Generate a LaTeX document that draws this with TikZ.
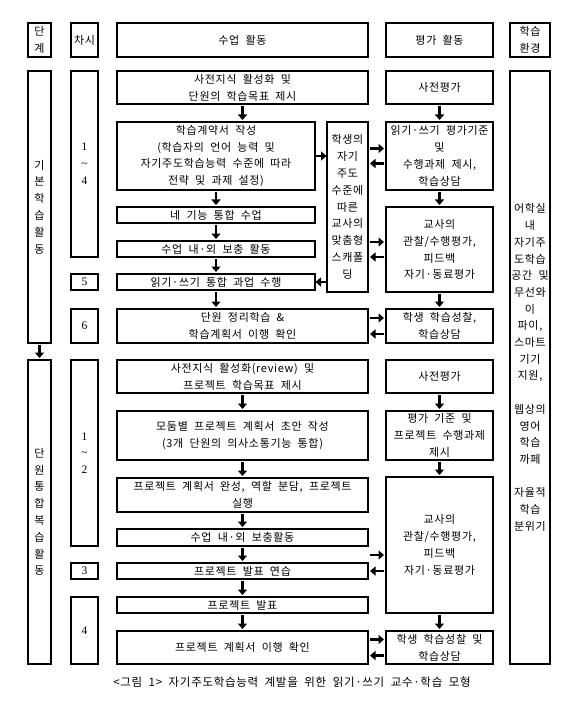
\documentclass[tikz,border=0pt]{standalone}
\usepackage{fontspec}
\newfontfamily\kr[LetterSpace=6,WordSpace=2]{Noto Sans CJK KR}
\newfontfamily\numf{Liberation Serif}
\usetikzlibrary{arrows.meta,calc}
\tikzset{
 bx/.style={draw, line width=1.7pt, inner sep=0pt, outer sep=0pt, anchor=north west},
 txt/.style={inner sep=0pt, align=center, font=\kr\fontsize{11}{16.8}\selectfont},
 envtxt/.style={inner sep=0pt, align=center, font=\kr\fontsize{11}{16.7}\selectfont},
 num/.style={inner sep=0pt, align=center, font=\numf\fontsize{11.5}{16.8}\selectfont},
 arr/.style={line width=2.8pt, -{Triangle[length=5.5pt,width=9pt]}, shorten <=2pt, shorten >=2pt},
 sarr/.style={arr, shorten <=1pt, shorten >=0.5pt},
}
\newcommand\mybox[7][txt]{%
 \node[bx, minimum width=#5pt-#3pt, minimum height=#6pt-#4pt] (#2) at (#3,#4) {};
 \node[#1] (#2t) at (#2.center) {#7};}
\begin{document}
\begin{tikzpicture}[x=1pt,y=-1pt]
\useasboundingbox (0,0) rectangle (585,711);
% header
\mybox{h1}{28}{23}{51}{57}{단\\계}
\mybox{h2}{71}{23}{98}{57}{차시}
\mybox{h3}{117}{23}{368}{57}{수업 활동}
\mybox{h4}{386}{23}{493}{57}{평가 활동}
\mybox{h5}{510}{23}{550}{57}{학습\\환경}
% stage column
\mybox{s1}{28}{71}{51}{343}{기\\본\\학\\습\\활\\동}
\mybox{s2}{28}{360}{51}{664}{단\\원\\통\\합\\복\\습\\활\\동}
% session column
\mybox[num]{c1}{71}{71}{98}{257}{1\\\textasciitilde\\4}
\mybox[num]{c2}{71}{274}{98}{290}{5}
\mybox[num]{c3}{71}{309}{98}{343}{6}
\mybox[num]{c4}{71}{360}{98}{546}{1\\\textasciitilde\\2}
\mybox[num]{c5}{71}{563}{98}{579}{3}
\mybox[num]{c6}{71}{597}{98}{664}{4}
% class activities (part 1)
\mybox{a1}{117}{71}{368}{104}{사전지식 활성화 및\\단원의 학습목표 제시}
\mybox{a2}{117}{122}{315}{190}{학습계약서 작성\\(학습자의 언어 능력 및\\자기주도학습능력 수준에 따라\\전략 및 과제 설정)}
\mybox{a3}{117}{207}{315}{223}{네 기능 통합 수업}
\mybox{a4}{117}{241}{315}{257}{수업 내·외 보충 활동}
\mybox{a5}{117}{274}{315}{290}{읽기·쓰기 통합 과업 수행}
\mybox{a6}{117}{309}{368}{343}{단원 정리학습 \&\\학습계획서 이행 확인}
\mybox{sc}{327}{122}{368}{292}{학생의\\자기\\주도\\수준에\\따른\\교사의\\맞춤형\\스캐폴\\딩}
% class activities (part 2)
\mybox{b1}{117}{360}{368}{393}{사전지식 활성화(review) 및\\프로젝트 학습목표 제시}
\mybox{b2}{117}{411}{368}{460}{모둠별 프로젝트 계획서 초안 작성\\(3개 단원의 의사소통기능 통합)}
\mybox{b3}{117}{478}{368}{512}{프로젝트 계획서 완성, 역할 분담, 프로젝트\\실행}
\mybox{b4}{117}{529}{368}{546}{수업 내·외 보충활동}
\mybox{b5}{117}{563}{368}{579}{프로젝트 발표 연습}
\mybox{b6}{117}{597}{368}{613}{프로젝트 발표}
\mybox{b7}{117}{631}{368}{664}{프로젝트 계획서 이행 확인}
% evaluation activities
\mybox{e1}{386}{71}{493}{104}{사전평가}
\mybox{e2}{386}{122}{493}{190}{읽기·쓰기 평가기준\\및\\수행과제 제시,\\학습상담}
\mybox{e3}{386}{207}{493}{292}{교사의\\관찰/수행평가,\\피드백\\자기·동료평가}
\mybox{e4}{386}{309}{493}{343}{학생 학습성찰,\\학습상담}
\mybox{e5}{386}{360}{493}{393}{사전평가}
\mybox{e6}{386}{411}{493}{460}{평가 기준 및\\프로젝트 수행과제\\제시}
\mybox{e7}{386}{477}{493}{613}{교사의\\관찰/수행평가,\\피드백\\자기·동료평가}
\mybox{e8}{386}{631}{493}{664}{학생 학습성찰 및\\학습상담}
% environment
\mybox[envtxt]{env}{510}{71}{550}{664}{어학실\\내\\자기주\\도학습\\공간 및\\무선와\\이\\파이,\\스마트\\기기\\지원,\\\mbox{}\\웹상의\\영어\\학습\\까페\\\mbox{}\\자율적\\학습\\분위기}
% vertical arrows
\draw[arr] (s1.south) -- (s1.south|-s2.north);
\draw[arr] (a1.south) -- (a1.south|-a2.north);
\draw[arr] (a2.south) -- (a2.south|-a3.north);
\draw[arr] (a3.south) -- (a3.south|-a4.north);
\draw[arr] (a4.south) -- (a4.south|-a5.north);
\draw[arr] (a5.south) -- (a5.south|-a6.north);
\draw[arr] (b1.south) -- (b1.south|-b2.north);
\draw[arr] (b2.south) -- (b2.south|-b3.north);
\draw[arr] (b3.south) -- (b3.south|-b4.north);
\draw[arr] (b4.south) -- (b4.south|-b5.north);
\draw[arr] (b5.south) -- (b5.south|-b6.north);
\draw[arr] (b6.south) -- (b6.south|-b7.north);
\draw[arr] (e1.south) -- (e1.south|-e2.north);
\draw[arr] (e2.south) -- (e2.south|-e3.north);
\draw[arr] (e3.south) -- (e3.south|-e4.north);
\draw[arr] (e5.south) -- (e5.south|-e6.north);
\draw[arr] (e6.south) -- (e6.south|-e7.north);
\draw[arr] (e7.south) -- (e7.south|-e8.north);
% horizontal arrows
\draw[sarr] (a2.east) -- (a2.east-|sc.west);
\draw[arr] ($(sc.east|-e2.west)+(0,-7.5)$) -- ($(e2.west)+(0,-7.5)$);
\draw[arr] ($(e2.west)+(0,7.5)$) -- ($(sc.east|-e2.west)+(0,7.5)$);
\draw[arr] ($(sc.east|-e3.west)+(0,-7.5)$) -- ($(e3.west)+(0,-7.5)$);
\draw[arr] ($(e3.west)+(0,7.5)$) -- ($(sc.east|-e3.west)+(0,7.5)$);
\draw[sarr] (sc.west|-a5.east) -- (a5.east);
\draw[arr] ($(a6.east)+(0,-8)$) -- ($(e4.west)+(0,-8)$);
\draw[arr] ($(e4.west)+(0,8)$) -- ($(a6.east)+(0,8)$);
\draw[arr] ($(b5.east|-e7.west)+(0,10)$) -- ($(e7.west)+(0,10)$);
\draw[arr] (e7.west|-b5.east) -- (b5.east);
\draw[arr] ($(b7.east)+(0,-8)$) -- ($(e8.west)+(0,-8)$);
\draw[arr] ($(e8.west)+(0,8)$) -- ($(b7.east)+(0,8)$);
% caption
\node[inner sep=0pt, font=\kr\fontsize{11.5}{13}\selectfont] (cap) at (292,682) {<그림 1> 자기주도학습능력 계발을 위한 읽기·쓰기 교수·학습 모형};
\end{tikzpicture}
\end{document}
